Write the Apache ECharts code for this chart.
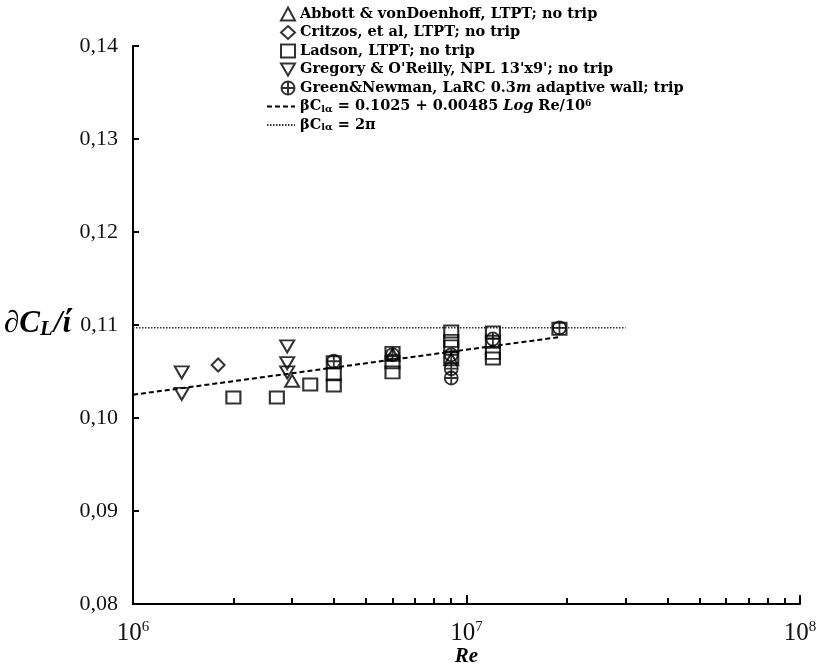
<!DOCTYPE html>
<html><head><meta charset="utf-8">
<script src="https://cdn.jsdelivr.net/npm/echarts@6/dist/echarts.min.js"></script>
<style>html,body{margin:0;background:#fff}#c{width:817px;height:666px}</style>
</head><body><div id="c"></div>
<script>
// Lift-curve slope vs Reynolds number, [Re, dCL/dalpha per degree]
const abbott = [[3.0e6, 0.1040], [6.0e6, 0.1068], [9.0e6, 0.1063]];
const critzos = [[1.8e6, 0.1057]];
const ladson = [
  [2.0e6, 0.1022], [2.7e6, 0.1022], [3.4e6, 0.1036],
  [4.0e6, 0.1035], [4.0e6, 0.1047], [4.0e6, 0.1060],
  [6.0e6, 0.1049], [6.0e6, 0.1060], [6.0e6, 0.1070],
  [9.0e6, 0.1065], [9.0e6, 0.1077], [9.0e6, 0.1083], [9.0e6, 0.1093],
  [1.2e7, 0.1064], [1.2e7, 0.1070], [1.2e7, 0.1082], [1.2e7, 0.1092],
  [1.9e7, 0.1096]
];
const gregory = [[1.4e6, 0.1049], [1.4e6, 0.1026], [2.9e6, 0.1077], [2.9e6, 0.1059], [2.9e6, 0.1049]];
const greenNewman = [[4.0e6, 0.1061], [6.0e6, 0.1068], [9.0e6, 0.1043], [9.0e6, 0.1053], [9.0e6, 0.1068], [1.2e7, 0.1085], [1.9e7, 0.1097]];
const fitLine = [[1.0e6, 0.1025], [1.9e7, 0.1087]];
const thinAirfoilLine = [[1.0e6, 0.1097], [3.0e7, 0.1097]];
const minorTickRe = [2e6, 3e6, 4e6, 5e6, 6e6, 7e6, 8e6, 9e6, 2e7, 3e7, 4e7, 5e7, 6e7, 7e7, 8e7, 9e7];

const names = {
  abbott: 'Abbott & vonDoenhoff, LTPT; no trip',
  critzos: 'Critzos, et al, LTPT; no trip',
  ladson: 'Ladson, LTPT; no trip',
  gregory: "Gregory & O'Reilly, NPL 13'x9'; no trip",
  green: 'Green&Newman, LaRC 0.3m adaptive wall; trip',
  fit: 'βClα = 0.1025 + 0.00485 Log Re/10^6',
  theory: 'βClα = 2π'
};
const richNames = {};
richNames[names.green] = 'Green&Newman, LaRC 0.3{i|m} adaptive wall; trip';
richNames[names.fit] = 'βC{sub|lα} = 0.1025 + 0.00485 {i|Log} Re/10{sup|6}';
richNames[names.theory] = 'βC{sub|lα} = 2π';

const hollow = { color: 'rgba(255,255,255,0)', borderColor: '#000', borderWidth: 2 };
const plusCircle = 'path://M10,0A10,10,0,1,1,-10,0A10,10,0,1,1,10,0ZM-10,0L10,0M0,-10L0,10';
const downTriangle = 'path://M0,0L20,0L10,17Z';
const legendFont = 'DejaVu Serif';
const legendText = {
  fontFamily: legendFont, fontWeight: 'bold', fontSize: 14.5, color: '#000', lineHeight: 15,
  rich: {
    i: { fontFamily: legendFont, fontWeight: 'bold', fontStyle: 'italic', fontSize: 14.5, color: '#000' },
    sub: { fontFamily: legendFont, fontWeight: 'bold', fontSize: 10, color: '#000', verticalAlign: 'bottom', padding: [7, 0, 0, 0] },
    sup: { fontFamily: legendFont, fontWeight: 'bold', fontSize: 9, color: '#000', verticalAlign: 'top', padding: [0, 0, 9, 0] }
  }
};

const chart = echarts.init(document.getElementById('c'));
chart.setOption({
  backgroundColor: '#fff',
  animation: false,
  grid: { left: 133, right: 17, top: 46, height: 558, outerBoundsMode: 'none', containLabel: false },
  legend: [{
    orient: 'vertical', left: 275, top: 1.5,
    itemWidth: 14, itemHeight: 13, itemGap: 3.5,
    data: [names.abbott, names.critzos, names.ladson, names.gregory, names.green],
    formatter: n => richNames[n] || n,
    textStyle: legendText
  }, {
    orient: 'vertical', left: 261, top: 94,
    itemWidth: 28, itemHeight: 13, itemGap: 3.5,
    data: [names.fit, names.theory],
    formatter: n => richNames[n] || n,
    textStyle: legendText
  }],
  xAxis: [{
    type: 'log', logBase: 10, min: 1e6, max: 1e8,
    axisLine: { lineStyle: { color: '#000', width: 2 } },
    axisTick: { inside: true, length: 9, lineStyle: { color: '#000', width: 2 } },
    splitLine: { show: false },
    axisLabel: {
      margin: 16,
      formatter: v => '{b|10}{s|' + Math.round(Math.log10(v)) + '}',
      rich: {
        b: { fontFamily: 'Liberation Serif', fontSize: 25, color: '#111' },
        s: { fontFamily: 'Liberation Serif', fontSize: 15, color: '#111', verticalAlign: 'top', padding: [0, 0, 12, 0] }
      }
    },
    name: 'Re', nameLocation: 'middle', nameGap: 42, nameMoveOverlap: false,
    nameTextStyle: { fontFamily: 'Liberation Serif', fontWeight: 'bold', fontStyle: 'italic', fontSize: 21, color: '#000' }
  }, {
    type: 'value', min: 6, max: 8, position: 'bottom',
    axisLine: { show: false }, axisLabel: { show: false }, splitLine: { show: false },
    axisTick: { inside: true, length: 6, customValues: minorTickRe.map(Math.log10), lineStyle: { color: '#000', width: 2 } }
  }],
  yAxis: {
    type: 'value', min: 0.08, max: 0.14, interval: 0.01,
    axisLine: { show: true, lineStyle: { color: '#000', width: 2 } },
    axisTick: { show: true, inside: true, length: 6, lineStyle: { color: '#000', width: 2 } },
    splitLine: { show: false },
    axisLabel: {
      margin: 15, fontFamily: 'Liberation Serif', fontSize: 22, color: '#111',
      formatter: v => v.toFixed(2).replace('.', ',')
    }
  },
  graphic: [{
    type: 'text', left: 4, top: 308, z: 0,
    style: {
      text: '{a|∂C}{s|L}{a|/ί}',
      rich: {
        a: { fontFamily: 'Liberation Serif', fontWeight: 'bold', fontStyle: 'italic', fontSize: 31, fill: '#000' },
        s: { fontFamily: 'Liberation Serif', fontWeight: 'bold', fontStyle: 'italic', fontSize: 21, fill: '#000', verticalAlign: 'bottom', padding: [12, 1, 0, 0] }
      }
    }
  }],
  series: [
    { name: names.theory, type: 'line', data: thinAirfoilLine, symbol: 'none', z: 1,
      itemStyle: { color: 'rgba(0,0,0,0)' },
      lineStyle: { color: '#333', width: 1.5, type: [1.5, 1.5] } },
    { name: names.fit, type: 'line', data: fitLine, symbol: 'none', z: 1,
      itemStyle: { color: 'rgba(0,0,0,0)' },
      lineStyle: { color: '#000', width: 2, type: [5, 3] } },
    { name: names.abbott, type: 'scatter', data: abbott, symbol: 'triangle', symbolSize: [14, 12], itemStyle: hollow, z: 3 },
    { name: names.critzos, type: 'scatter', data: critzos, symbol: 'diamond', symbolSize: [13, 13], itemStyle: hollow, z: 3 },
    { name: names.ladson, type: 'scatter', data: ladson, symbol: 'rect', symbolSize: [14, 12], itemStyle: hollow, z: 3 },
    { name: names.gregory, type: 'scatter', data: gregory, symbol: downTriangle, symbolSize: [14, 12], itemStyle: hollow, z: 3 },
    { name: names.green, type: 'scatter', data: greenNewman, symbol: plusCircle, symbolSize: 13, itemStyle: { color: 'rgba(255,255,255,0)', borderColor: '#000', borderWidth: 1.8 }, z: 3 }
  ]
});
</script></body></html>
